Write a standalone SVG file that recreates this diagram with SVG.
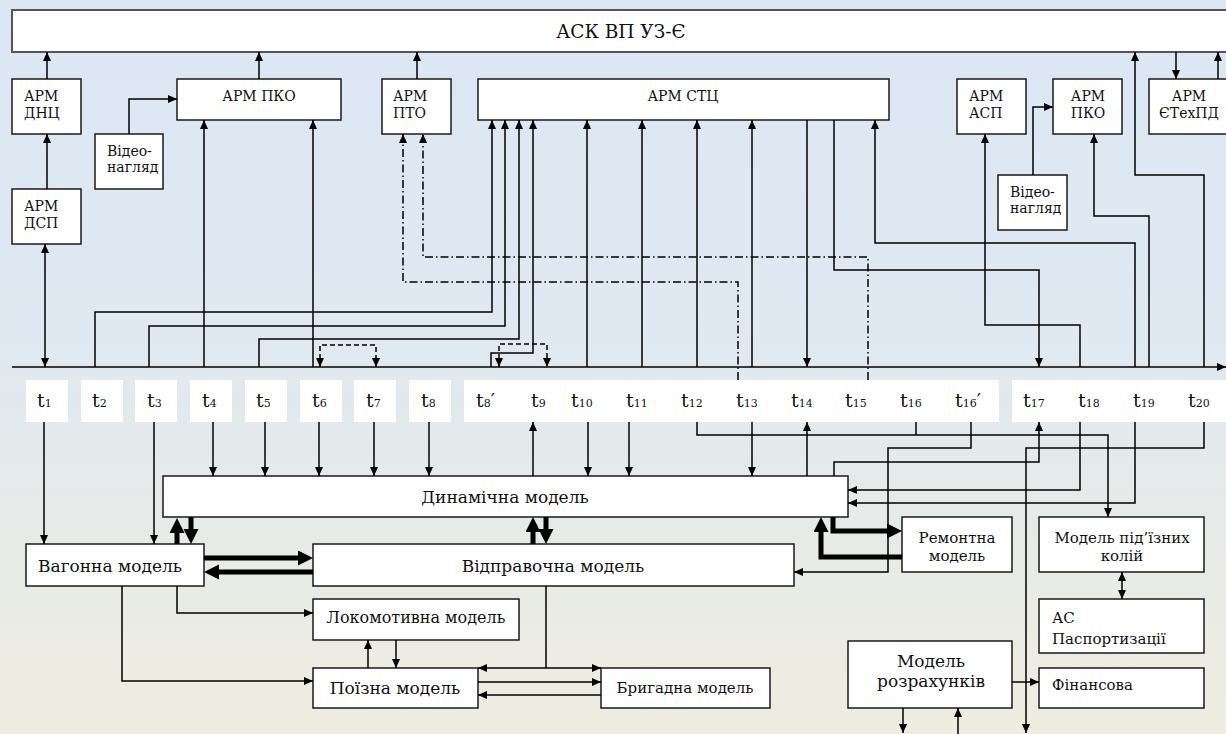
<svg xmlns="http://www.w3.org/2000/svg" width="1226" height="734" viewBox="0 0 1226 734" font-family="'DejaVu Serif', serif">
  <defs>
    <linearGradient id="bg" x1="0" y1="0" x2="0" y2="1">
      <stop offset="0" stop-color="#dce7f4"/>
      <stop offset="0.45" stop-color="#e0e9f2"/>
      <stop offset="0.7" stop-color="#e6eae8"/>
      <stop offset="1" stop-color="#efede1"/>
    </linearGradient>
    <marker id="a" markerUnits="userSpaceOnUse" markerWidth="10" markerHeight="8" refX="9" refY="4" orient="auto-start-reverse">
      <path d="M0,0 L9,4 L0,8 z" fill="#000" stroke="none"/>
    </marker>
    <marker id="ta" markerUnits="userSpaceOnUse" markerWidth="16" markerHeight="16" refX="0" refY="7.5" orient="auto">
      <path d="M0,0 L15,7.5 L0,15 z" fill="#000" stroke="none"/>
    </marker>
    <style>
      .box{fill:#fff;stroke:#1a1a1a;stroke-width:1.5}
      .lbl{fill:#fff;stroke:none}
      text{fill:#111}
      .s{font-size:14px}
      .m{font-size:17px}
      .n{font-size:15px}
      .tt{font-size:19px}
      .sub{font-size:11px}
      .c{text-anchor:middle}
      .ln{fill:none;stroke:#000;stroke-width:1.5}
      .ar{marker-end:url(#a)}
      .da{marker-start:url(#a);marker-end:url(#a)}
      .thick{fill:none;stroke:#000;stroke-width:5;marker-end:url(#ta)}
      .dd{fill:none;stroke:#000;stroke-width:1.5;stroke-dasharray:8 3 1.5 3}
      .dsh{fill:none;stroke:#000;stroke-width:1.5;stroke-dasharray:5 3}
    </style>
  </defs>

  <rect width="1226" height="734" fill="url(#bg)"/>

  <!-- upper level: workstations -->
  <g id="ask">
    <rect x="12" y="10" width="1218" height="42" fill="#fff" stroke="#555" stroke-width="2"/>
    <text class="c" font-size="18.5" x="621" y="38">АСК ВП УЗ-Є</text>
  </g>
  <g id="arm-dnc">
    <rect class="box" x="12" y="79" width="69" height="55"/>
    <text class="s" x="24" y="101">АРМ</text>
    <text class="s" x="24" y="118">ДНЦ</text>
  </g>
  <g id="arm-dsp">
    <rect class="box" x="12" y="189" width="69" height="55"/>
    <text class="s" x="24" y="211">АРМ</text>
    <text class="s" x="24" y="228">ДСП</text>
  </g>
  <g id="video-1">
    <rect class="box" x="95" y="134" width="68" height="55"/>
    <text class="s" x="107" y="156">Відео-</text>
    <text class="s" x="107" y="172">нагляд</text>
  </g>
  <g id="arm-pko-1">
    <rect class="box" x="177" y="79" width="164" height="41"/>
    <text class="s c" x="259" y="101">АРМ ПКО</text>
  </g>
  <g id="arm-pto">
    <rect class="box" x="382" y="79" width="69" height="55"/>
    <text class="s" x="393" y="101">АРМ</text>
    <text class="s" x="393" y="118">ПТО</text>
  </g>
  <g id="arm-stc">
    <rect class="box" x="478" y="79" width="411" height="41"/>
    <text class="s c" x="683" y="101">АРМ СТЦ</text>
  </g>
  <g id="arm-asp">
    <rect class="box" x="957" y="79" width="69" height="55"/>
    <text class="s" x="969" y="101">АРМ</text>
    <text class="s" x="969" y="118">АСП</text>
  </g>
  <g id="arm-pko-2">
    <rect class="box" x="1053" y="79" width="69" height="55"/>
    <text class="s c" x="1088" y="101">АРМ</text>
    <text class="s c" x="1088" y="118">ПКО</text>
  </g>
  <g id="video-2">
    <rect class="box" x="998" y="175" width="69" height="55"/>
    <text class="s" x="1010" y="197">Відео-</text>
    <text class="s" x="1010" y="213">нагляд</text>
  </g>
  <g id="arm-etexpd">
    <rect class="box" x="1149" y="79" width="85" height="55"/>
    <text class="s c" x="1189" y="101">АРМ</text>
    <text class="s c" x="1189" y="118">ЄТехПД</text>
  </g>

  <!-- time marks -->
  <g id="marks">
    <rect class="lbl" x="26" y="380" width="42" height="42"/>
    <rect class="lbl" x="81" y="380" width="42" height="42"/>
    <rect class="lbl" x="135" y="380" width="42" height="42"/>
    <rect class="lbl" x="190" y="380" width="42" height="42"/>
    <rect class="lbl" x="245" y="380" width="42" height="42"/>
    <rect class="lbl" x="300" y="380" width="42" height="42"/>
    <rect class="lbl" x="354" y="380" width="42" height="42"/>
    <rect class="lbl" x="409" y="380" width="42" height="42"/>
    <rect class="lbl" x="464" y="380" width="535" height="42"/>
    <rect class="lbl" x="1012" y="380" width="220" height="42"/>
    <text class="tt" y="407">
      <tspan x="37">t</tspan><tspan class="sub">1</tspan>
      <tspan x="92">t</tspan><tspan class="sub">2</tspan>
      <tspan x="147">t</tspan><tspan class="sub">3</tspan>
      <tspan x="202">t</tspan><tspan class="sub">4</tspan>
      <tspan x="256">t</tspan><tspan class="sub">5</tspan>
      <tspan x="312">t</tspan><tspan class="sub">6</tspan>
      <tspan x="366">t</tspan><tspan class="sub">7</tspan>
      <tspan x="421">t</tspan><tspan class="sub">8</tspan>
      <tspan x="476">t</tspan><tspan class="sub">8</tspan><tspan>′</tspan>
      <tspan x="531">t</tspan><tspan class="sub">9</tspan>
      <tspan x="571">t</tspan><tspan class="sub">10</tspan>
      <tspan x="626">t</tspan><tspan class="sub">11</tspan>
      <tspan x="681">t</tspan><tspan class="sub">12</tspan>
      <tspan x="736">t</tspan><tspan class="sub">13</tspan>
      <tspan x="791">t</tspan><tspan class="sub">14</tspan>
      <tspan x="845">t</tspan><tspan class="sub">15</tspan>
      <tspan x="900">t</tspan><tspan class="sub">16</tspan>
      <tspan x="955">t</tspan><tspan class="sub">16</tspan><tspan>′</tspan>
      <tspan x="1023">t</tspan><tspan class="sub">17</tspan>
      <tspan x="1078">t</tspan><tspan class="sub">18</tspan>
      <tspan x="1133">t</tspan><tspan class="sub">19</tspan>
      <tspan x="1188">t</tspan><tspan class="sub">20</tspan>
    </text>
  </g>

  <!-- lower level: models -->
  <g id="dyn-model">
    <rect class="box" x="163" y="476" width="685" height="41"/>
    <text class="m c" x="505" y="503">Динамічна модель</text>
  </g>
  <g id="wagon-model">
    <rect class="box" x="26" y="544" width="178" height="42"/>
    <text class="m" x="38" y="572">Вагонна модель</text>
  </g>
  <g id="dispatch-model">
    <rect class="box" x="313" y="544" width="481" height="42"/>
    <text class="m c" x="553" y="572">Відправочна модель</text>
  </g>
  <g id="loco-model">
    <rect class="box" x="313" y="599" width="206" height="41"/>
    <text class="c" font-size="16" x="416" y="623">Локомотивна модель</text>
  </g>
  <g id="train-model">
    <rect class="box" x="313" y="668" width="165" height="40"/>
    <text class="m c" x="395" y="694">Поїзна модель</text>
  </g>
  <g id="crew-model">
    <rect class="box" x="601" y="668" width="169" height="40"/>
    <text class="n c" x="685" y="693">Бригадна модель</text>
  </g>
  <g id="repair-model">
    <rect class="box" x="902" y="517" width="110" height="55"/>
    <text class="n c" x="957" y="543">Ремонтна</text>
    <text class="n c" x="957" y="561">модель</text>
  </g>
  <g id="siding-model">
    <rect class="box" x="1039" y="517" width="165" height="55"/>
    <text class="n c" x="1122" y="543">Модель під’їзних</text>
    <text class="n c" x="1122" y="561">колій</text>
  </g>
  <g id="as-passport">
    <rect class="box" x="1039" y="599" width="165" height="54"/>
    <text class="n" x="1052" y="623">АС</text>
    <text class="n" x="1052" y="644">Паспортизації</text>
  </g>
  <g id="calc-model">
    <rect class="box" x="848" y="641" width="164" height="67"/>
    <text class="m c" x="931" y="667">Модель</text>
    <text class="m c" x="931" y="687">розрахунків</text>
  </g>
  <g id="finance">
    <rect class="box" x="1039" y="668" width="165" height="40"/>
    <text class="n" x="1052" y="690">Фінансова</text>
  </g>

  <g id="connectors">
    <!-- time axis -->
    <path class="ln ar" d="M12,367 H1226"/>

    <!-- upper links -->
    <path class="ln ar" d="M47,79 V52"/>
    <path class="ln ar" d="M47,189 V134"/>
    <path class="ln da" d="M45,244 V367"/>
    <path class="ln ar" d="M259,79 V52"/>
    <path class="ln ar" d="M129,134 V99 H177"/>
    <path class="ln ar" d="M417,79 V52"/>
    <path class="ln ar" d="M204,367 V120"/>
    <path class="ln ar" d="M313,367 V120"/>
    <path class="ln ar" d="M95,367 V312 H492 V120"/>
    <path class="ln ar" d="M149,367 V326 H505 V120"/>
    <path class="ln ar" d="M259,367 V339 H519 V120"/>
    <path class="ln ar" d="M491,367 V353 H533 V120"/>
    <path class="ln ar" d="M587,367 V120"/>
    <path class="ln ar" d="M642,367 V120"/>
    <path class="ln ar" d="M697,367 V120"/>
    <path class="ln ar" d="M752,367 V120"/>
    <path class="ln ar" d="M807,120 V367"/>
    <path class="ln ar" d="M834,120 V270 H1039 V367"/>
    <path class="ln ar" d="M1135,367 V243 H875 V120"/>
    <path class="ln ar" d="M1080,367 V325 H985 V134"/>
    <path class="ln ar" d="M1149,367 V216 H1094 V134"/>
    <path class="ln ar" d="M1204,367 V175 H1135 V52"/>
    <path class="ln ar" d="M1176,52 V79"/>
    <path class="ln ar" d="M1218,79 V52"/>
    <path class="ln ar" d="M1033,175 V107 H1053"/>
    <path class="dd ar" d="M738,380 V282 H403 V134"/>
    <path class="dd ar" d="M868,380 V257 H423 V134"/>
    <path class="dsh da" d="M320,367 V345 H376 V367"/>
    <path class="dsh da" d="M499,367 V344 H547 V367"/>

    <!-- lower links -->
    <path class="ln ar" d="M44,422 V544"/>
    <path class="ln ar" d="M154,422 V544"/>
    <path class="ln ar" d="M213,422 V476"/>
    <path class="ln ar" d="M265,422 V476"/>
    <path class="ln ar" d="M319,422 V476"/>
    <path class="ln ar" d="M374,422 V476"/>
    <path class="ln ar" d="M429,422 V476"/>
    <path class="ln ar" d="M533,476 V422"/>
    <path class="ln ar" d="M588,422 V476"/>
    <path class="ln ar" d="M629,422 V476"/>
    <path class="ln ar" d="M752,422 V476"/>
    <path class="ln ar" d="M807,476 V422"/>
    <path class="ln ar" d="M697,422 V435 H1108 V517"/>
    <path class="ln" d="M916,422 V435"/>
    <path class="ln ar" d="M971,422 V448 H888 V572 H794"/>
    <path class="ln ar" d="M834,476 V462 H1039 V422"/>
    <path class="ln ar" d="M1080,422 V490 H848"/>
    <path class="ln ar" d="M1135,422 V503 H848"/>
    <path class="ln ar" d="M1204,422 V448 H1026 V733"/>
    <path class="ln da" d="M1122,572 V599"/>
    <path class="ln ar" d="M1012,682 H1039"/>
    <path class="ln ar" d="M903,708 V733"/>
    <path class="ln ar" d="M958,734 V708"/>
    <path class="ln ar" d="M177,586 V613 H313"/>
    <path class="ln ar" d="M122,586 V681 H313"/>
    <path class="ln ar" d="M368,668 V640"/>
    <path class="ln ar" d="M396,640 V668"/>
    <path class="ln" d="M546,586 V668"/>
    <path class="ln da" d="M478,668 H601"/>
    <path class="ln ar" d="M478,682 H601"/>
    <path class="ln ar" d="M601,695 H478"/>

    <!-- heavy data flows -->
    <path class="thick" d="M177,544 V533"/>
    <path class="thick" d="M191,517 V529"/>
    <path class="thick" d="M204,558 H298"/>
    <path class="thick" d="M313,572 H219"/>
    <path class="thick" d="M533,544 V532"/>
    <path class="thick" d="M546,517 V529"/>
    <path class="thick" d="M833,517 V531 H887"/>
    <path class="thick" d="M902,557 H821 V532"/>
  </g>
</svg>
